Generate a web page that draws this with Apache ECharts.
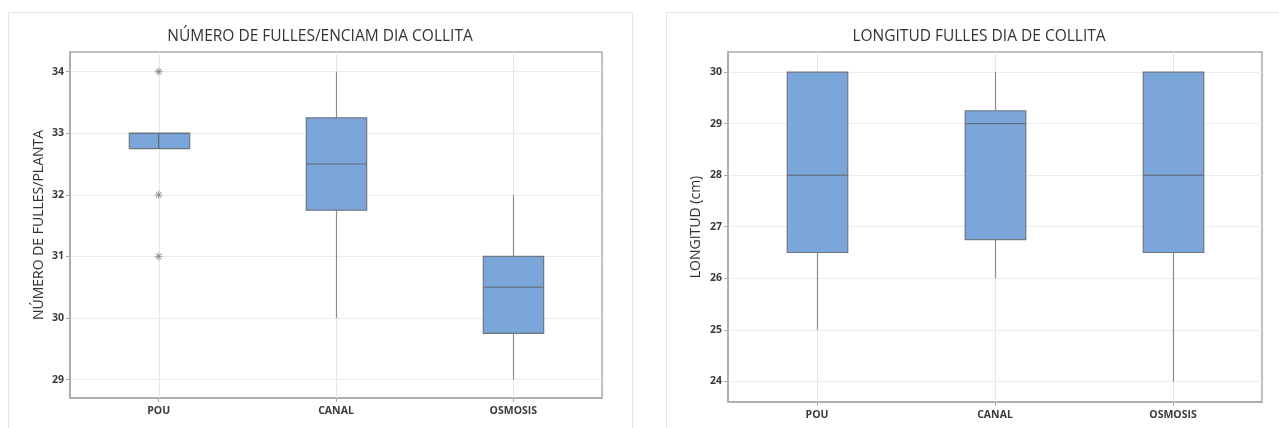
<!DOCTYPE html>
<html><head><meta charset="utf-8">
<script src="https://cdn.jsdelivr.net/npm/echarts@6/dist/echarts.min.js"></script>
<style>html,body{margin:0;padding:0;background:#fff}#c{width:1279px;height:428px}</style>
</head><body><div id="c"></div>
<script>
const categories = ['POU', 'CANAL', 'OSMOSIS'];
// [min, Q1, median, Q3, max]
const leavesBoxes = [
  [32.75, 32.75, 33, 33, 33],
  [30, 31.75, 32.5, 33.25, 34],
  [29, 29.75, 30.5, 31, 32]
];
const leavesOutliers = [['POU', 34], ['POU', 32], ['POU', 31]];
const lengthBoxes = [
  [25, 26.5, 28, 30, 30],
  [26, 26.75, 29, 29.25, 30],
  [24, 26.5, 28, 30, 30]
];
const leftTicks = [29, 30, 31, 32, 33, 34];
const rightTicks = [24, 25, 26, 27, 28, 29, 30];
const leftTitle = 'NÚMERO DE FULLES/ENCIAM DIA COLLITA';
const rightTitle = 'LONGITUD FULLES DIA DE COLLITA';
const leftYName = 'NÚMERO DE FULLES/PLANTA';
const rightYName = 'LONGITUD (cm)';

const FONT = 'Open Sans';
const asterisk = 'path://M-0.55,-5 L0.55,-5 L0.55,5 L-0.55,5 Z M-5,-0.55 L5,-0.55 L5,0.55 L-5,0.55 Z M-3.9,-3.1 L-3.1,-3.9 L3.9,3.1 L3.1,3.9 Z M3.1,-3.9 L3.9,-3.1 L-3.1,3.9 L-3.9,3.1 Z';

function xAxisDef(gi) {
  return {
    type: 'category', gridIndex: gi, data: categories,
    axisLine: {show: true, lineStyle: {color: '#aaaaaa', width: 1.5}},
    axisTick: {show: true, alignWithLabel: true, length: 4, lineStyle: {color: '#aaa'}},
    axisLabel: {color: '#3a3a3a', fontFamily: FONT, fontSize: 10.5, fontWeight: 'bold', margin: 8},
    splitLine: {show: false}
  };
}
function yAxisDef(gi, min, max, ticks, name, gap) {
  return {
    type: 'value', gridIndex: gi, min: min, max: max,
    name: name, nameLocation: 'middle', nameGap: gap, nameRotate: 90,
    nameTextStyle: {color: '#333', fontFamily: FONT, fontSize: 14},
    axisLine: {show: true, lineStyle: {color: '#aaaaaa', width: 1.5}},
    axisTick: {show: true, length: 4, customValues: ticks, lineStyle: {color: '#aaa'}},
    axisLabel: {color: '#3a3a3a', fontFamily: FONT, fontSize: 10.5, fontWeight: 'bold', margin: 6, customValues: ticks},
    splitLine: {show: true, lineStyle: {color: '#ececec', width: 1}}
  };
}
function renderBox(params, api) {
  const idx = api.value(0);
  const vmin = api.value(1), q1 = api.value(2), med = api.value(3), q3 = api.value(4), vmax = api.value(5);
  const cs = params.coordSys;
  const bw = api.size([1, 0])[0] * 0.34;
  const pMin = api.coord([idx, vmin]), pQ1 = api.coord([idx, q1]), pMed = api.coord([idx, med]);
  const pQ3 = api.coord([idx, q3]), pMax = api.coord([idx, vmax]);
  const cx = Math.round(pMin[0]) + 0.5;
  const children = [
    {type: 'line', shape: {x1: cx, y1: cs.y, x2: cx, y2: cs.y + cs.height}, style: {stroke: '#e6e6e6', lineWidth: 1}},
    {type: 'line', shape: {x1: cx, y1: pQ3[1], x2: cx, y2: pMax[1]}, style: {stroke: '#8c8c8c', lineWidth: 1.2}},
    {type: 'line', shape: {x1: cx, y1: pQ1[1], x2: cx, y2: pMin[1]}, style: {stroke: '#8c8c8c', lineWidth: 1.2}},
    {type: 'rect', shape: {x: cx - bw / 2, y: pQ3[1], width: bw, height: pQ1[1] - pQ3[1]},
      style: {fill: '#7ba6d9', stroke: '#6e7785', lineWidth: 1.2}},
    {type: 'line', shape: {x1: cx - bw / 2, y1: pMed[1], x2: cx + bw / 2, y2: pMed[1]}, style: {stroke: '#5f6670', lineWidth: 1}}
  ];
  return {type: 'group', children: children};
}

const chart = echarts.init(document.getElementById('c'));
chart.setOption({
  animation: false,
  backgroundColor: '#fff',
  graphic: [
    {type: 'rect', shape: {x: 8.5, y: 12.5, width: 624, height: 430}, style: {fill: 'none', stroke: '#e2e2e2', lineWidth: 1}, z: -10},
    {type: 'rect', shape: {x: 666.5, y: 12.5, width: 640, height: 430}, style: {fill: 'none', stroke: '#e2e2e2', lineWidth: 1}, z: -10}
  ],
  title: [
    {text: leftTitle, left: 315, top: 24, textAlign: 'center',
      textStyle: {color: '#333', fontFamily: FONT, fontSize: 15.5, fontWeight: 'normal'}},
    {text: rightTitle, left: 974, top: 24, textAlign: 'center',
      textStyle: {color: '#333', fontFamily: FONT, fontSize: 15.5, fontWeight: 'normal'}}
  ],
  grid: [
    {left: 70, right: 677, top: 52, bottom: 30, show: true, borderColor: '#aaaaaa', borderWidth: 1.5, backgroundColor: 'transparent'},
    {left: 728, right: 17, top: 52, bottom: 26, show: true, borderColor: '#aaaaaa', borderWidth: 1.5, backgroundColor: 'transparent'}
  ],
  xAxis: [xAxisDef(0), xAxisDef(1)],
  yAxis: [
    yAxisDef(0, 28.7, 34.32, leftTicks, leftYName, 23.5),
    yAxisDef(1, 23.6, 30.39, rightTicks, rightYName, 24.5)
  ],
  series: [
    {type: 'custom', xAxisIndex: 0, yAxisIndex: 0, renderItem: renderBox,
      data: leavesBoxes.map((b, i) => [i].concat(b)), encode: {x: 0, y: [1, 2, 3, 4, 5]}, z: 3, silent: true},
    {type: 'line', xAxisIndex: 0, yAxisIndex: 0, data: [['POU', leavesBoxes[0][1]], ['POU', leavesBoxes[0][3]]],
      symbol: 'none', lineStyle: {color: '#5f6670', width: 1.2}, z: 4, silent: true},
    {type: 'scatter', xAxisIndex: 0, yAxisIndex: 0, data: leavesOutliers, symbol: asterisk, symbolSize: 8,
      itemStyle: {color: '#777'}, z: 4},
    {type: 'custom', xAxisIndex: 1, yAxisIndex: 1, renderItem: renderBox,
      data: lengthBoxes.map((b, i) => [i].concat(b)), encode: {x: 0, y: [1, 2, 3, 4, 5]}, z: 3, silent: true}
  ]
});
</script></body></html>
